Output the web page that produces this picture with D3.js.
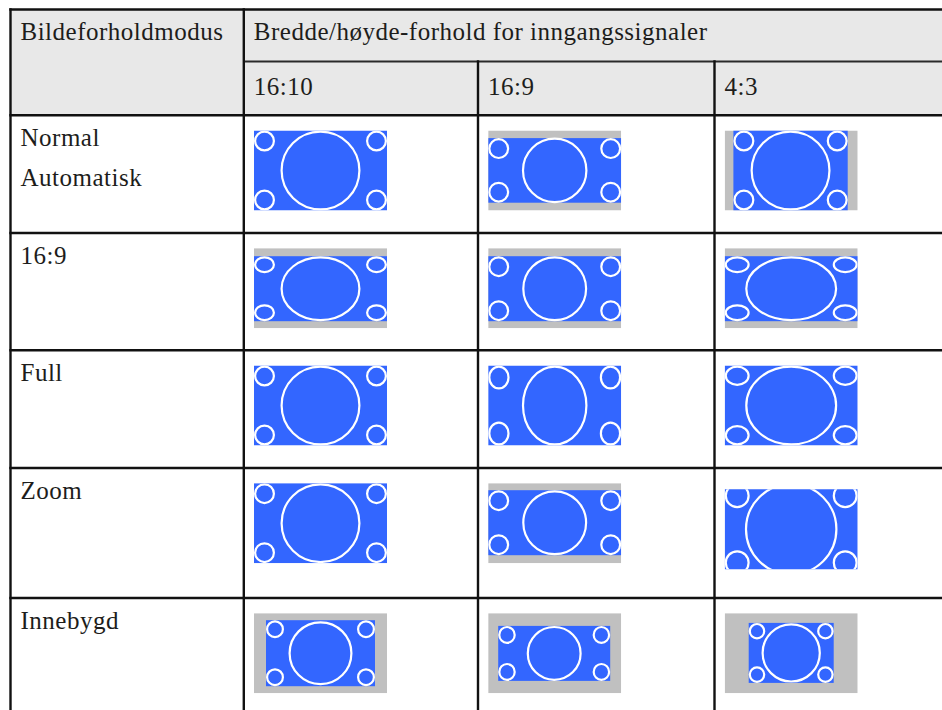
<!DOCTYPE html>
<html>
<head>
<meta charset="utf-8">
<script src="https://cdn.jsdelivr.net/npm/d3@7"></script>
<style>
  html, body { margin: 0; padding: 0; background: #ffffff; overflow: hidden; }
  svg { display: block; }
  text { font-family: "Liberation Serif", "Times New Roman", serif; font-size: 25px; letter-spacing: 0.5px; fill: #1d1d1b; }
</style>
</head>
<body>
<svg id="chart" width="942" height="710"></svg>
<script>
// ---------- DATA ----------
const headerMode = "Bildeforholdmodus";
const headerInput = "Bredde/høyde-forhold for inngangssignaler";
const inputRatios = ["16:10", "16:9", "4:3"];
const modes = [["Normal", "Automatisk"], ["16:9"], ["Full"], ["Zoom"], ["Innebygd"]];

// Projected picture area inside the 133×80 screen frame: [x0, x1, y0, y1]
const pictureArea = [
  [[0, 133, 0, 80],   [0, 133, 7.6, 72.2], [8.7, 123, 0, 80]],
  [[0, 133, 8, 73],   [0, 133, 8, 73],     [0, 133, 8, 73]],
  [[0, 133, 0, 80],   [0, 133, 0, 80],     [0, 133, 0, 80]],
  [[0, 133, 0, 80],   [0, 133, 7, 72],     [0, 133, -6, 86]],
  [[12, 121, 7, 73],  [10, 122, 12.7, 67.7], [24, 109, 9.7, 69.7]]
];
// Large centre shape radii [rx, ry]
const bigRadii = [
  [[40, 40],   [32.8, 32.8], [40, 40]],
  [[40, 32.5], [32.5, 32.5], [46, 32.5]],
  [[40, 40],   [32.8, 40],   [46, 40]],
  [[40, 40],   [32.5, 32.5], [46.3, 46.3]],
  [[32, 32],   [27.5, 27.5], [29.7, 29.7]]
];
// Corner shape radii [rx, ry]
const smallRadii = [
  [[10.5, 10.5], [10.5, 10.5], [10.5, 10.5]],
  [[10.5, 8.5],  [10.5, 10.5], [12.5, 8.5]],
  [[10.5, 10.5], [10.7, 12],   [12.5, 10.2]],
  [[10.5, 10.5], [10.5, 10.5], [12.5, 12.5]],
  [[9, 9],       [8.8, 9],     [8.3, 8.3]]
];

// ---------- LAYOUT ----------
const colLines = [10.5, 243.8, 478, 714.5, 960];
const rowLines = [9.5, 115.3, 233, 350.3, 468, 598, 730];
const subHeaderLine = 61.5;
const frameW = 133, frameH = 80;
const frameOffX = 10.2, frameOffY = 15.2;
const cellShift = { "3-2": 6 };   // the Zoom / 4:3 picture sits a little lower
const BLUE = "#3366ff", GRAY = "#c0c0c0", HEAD = "#e8e8e8";

const svg = d3.select("#chart");

// header background
svg.append("rect").attr("x", colLines[0]).attr("y", rowLines[0])
  .attr("width", colLines[4] - colLines[0]).attr("height", rowLines[1] - rowLines[0])
  .attr("fill", HEAD);

// header texts
svg.append("text").attr("x", colLines[0] + 10).attr("y", rowLines[0] + 30).text(headerMode);
svg.append("text").attr("x", colLines[1] + 10).attr("y", rowLines[0] + 30).text(headerInput);
inputRatios.forEach((r, i) => {
  svg.append("text").attr("x", colLines[i + 1] + 10).attr("y", subHeaderLine + 33).text(r);
});

// mode labels
modes.forEach((lines, ri) => {
  const t = svg.append("text").attr("x", colLines[0] + 10).attr("y", rowLines[ri + 1] + 31);
  lines.forEach((ln, k) => {
    t.append("tspan").attr("x", colLines[0] + 10).attr("dy", k === 0 ? 0 : 40).text(ln);
  });
});

// pictures
const defs = svg.append("defs");
const sw = 2.2;
modes.forEach((m, ri) => {
  inputRatios.forEach((inp, ci) => {
    const fx = colLines[ci + 1] + frameOffX;
    const fy = rowLines[ri + 1] + frameOffY + (cellShift[ri + "-" + ci] || 0);
    const x = d3.scaleLinear().domain([0, frameW]).range([fx, fx + frameW]);
    const y = d3.scaleLinear().domain([0, frameH]).range([fy, fy + frameH]);
    const clipId = "clip-" + ri + "-" + ci;
    defs.append("clipPath").attr("id", clipId).append("rect")
      .attr("x", x(0)).attr("y", y(0)).attr("width", x(frameW) - x(0)).attr("height", y(frameH) - y(0));
    const g = svg.append("g").attr("clip-path", `url(#${clipId})`);
    const [ax0, ax1, ay0, ay1] = pictureArea[ri][ci];
    const covers = ax0 <= 0 && ax1 >= frameW && ay0 <= 0 && ay1 >= frameH;
    if (!covers) {
      g.append("rect").attr("x", x(0)).attr("y", y(0))
        .attr("width", x(frameW) - x(0)).attr("height", y(frameH) - y(0)).attr("fill", GRAY);
    }
    g.append("rect").attr("x", x(ax0)).attr("y", y(ay0))
      .attr("width", x(ax1) - x(ax0)).attr("height", y(ay1) - y(ay0)).attr("fill", BLUE);
    const cx = (ax0 + ax1) / 2, cy = (ay0 + ay1) / 2;
    const [brx, bry] = bigRadii[ri][ci];
    g.append("ellipse").attr("cx", x(cx)).attr("cy", y(cy))
      .attr("rx", x(brx) - x(0) - sw / 2).attr("ry", y(bry) - y(0) - sw / 2)
      .attr("fill", "none").attr("stroke", "#ffffff").attr("stroke-width", sw);
    const [srx, sry] = smallRadii[ri][ci];
    const corners = [[ax0 + srx, ay0 + sry], [ax1 - srx, ay0 + sry], [ax0 + srx, ay1 - sry], [ax1 - srx, ay1 - sry]];
    g.selectAll(null).data(corners).enter().append("ellipse")
      .attr("cx", d => x(d[0])).attr("cy", d => y(d[1]))
      .attr("rx", x(srx) - x(0) - sw / 2).attr("ry", y(sry) - y(0) - sw / 2)
      .attr("fill", "none").attr("stroke", "#ffffff").attr("stroke-width", sw);
  });
});

// grid lines
const lineColor = "#111111";
svg.selectAll(null).data(rowLines.slice(0, -1)).enter().append("line")
  .attr("x1", colLines[0] - 1.2).attr("x2", colLines[4])
  .attr("y1", d => d).attr("y2", d => d)
  .attr("stroke", lineColor).attr("stroke-width", 2.4);
svg.append("line").attr("x1", colLines[1]).attr("x2", colLines[4])
  .attr("y1", subHeaderLine).attr("y2", subHeaderLine)
  .attr("stroke", "#2a2a2a").attr("stroke-width", 2);
svg.selectAll(null).data(colLines.slice(0, 4)).enter().append("line")
  .attr("x1", d => d).attr("x2", d => d)
  .attr("y1", (d, i) => (i >= 2 ? subHeaderLine : rowLines[0]) - 1.2)
  .attr("y2", rowLines[rowLines.length - 1])
  .attr("stroke", lineColor).attr("stroke-width", 2.4);
</script>
</body>
</html>
